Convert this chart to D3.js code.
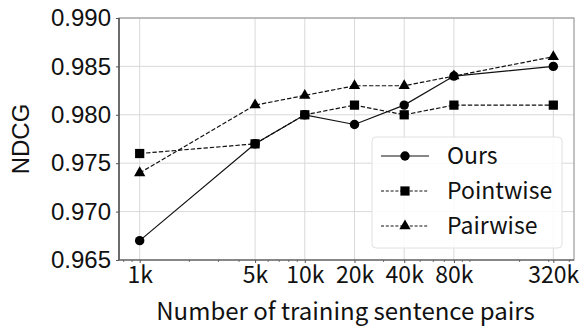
<!DOCTYPE html>
<html>
<head>
<meta charset="utf-8">
<script src="https://cdn.jsdelivr.net/npm/d3@7"></script>
<style>
  body { margin: 0; background: #fff; }
  svg { display: block; }
</style>
</head>
<body>
<div id="chart"></div>
<script>
// data
var sizes = [1000, 5000, 10000, 20000, 40000, 80000, 320000];
var sizeLabels = ["1k", "5k", "10k", "20k", "40k", "80k", "320k"];
var ours = [0.967, 0.977, 0.980, 0.979, 0.981, 0.984, 0.985];
var pointwise = [0.976, 0.977, 0.980, 0.981, 0.980, 0.981, 0.981];
var pairwise = [0.974, 0.981, 0.982, 0.983, 0.983, 0.984, 0.986];
var yTicks = [0.965, 0.970, 0.975, 0.980, 0.985, 0.990];

var w = 584, h = 329;
var pL = 119, pR = 574, pT = 18, pB = 260;
var cjk = "'Noto Sans CJK JP', 'Noto Sans', sans-serif";
var sans = "'Liberation Sans', Arial, sans-serif";

var svg = d3
  .select("#chart")
  .append("svg")
  .attr("width", w)
  .attr("height", h);

// 5% margin in log space like matplotlib
var lo = Math.log10(1000), hi = Math.log10(320000), m = (hi - lo) * 0.05;
var x = d3.scaleLog().domain([Math.pow(10, lo - m), Math.pow(10, hi + m)]).range([pL, pR]);
var y = d3.scaleLinear().domain([0.965, 0.990]).range([pB, pT]);

// grid
svg.append("g")
  .selectAll("line")
  .data(sizes)
  .enter()
  .append("line")
  .attr("x1", d => x(d)).attr("x2", d => x(d))
  .attr("y1", pT).attr("y2", pB)
  .attr("stroke", "#d9d9d9").attr("stroke-width", 1);
svg.append("g")
  .selectAll("line")
  .data(yTicks)
  .enter()
  .append("line")
  .attr("x1", pL).attr("x2", pR)
  .attr("y1", d => y(d)).attr("y2", d => y(d))
  .attr("stroke", "#d9d9d9").attr("stroke-width", 1);

// spines
svg.append("rect")
  .attr("x", pL).attr("y", pT)
  .attr("width", pR - pL).attr("height", pB - pT)
  .attr("fill", "none").attr("stroke", "#9a9a9a").attr("stroke-width", 1.2);
svg.append("line").attr("x1", pL).attr("x2", pL).attr("y1", pT).attr("y2", pB)
  .attr("stroke", "#333").attr("stroke-width", 1.2);
svg.append("line").attr("x1", pL).attr("x2", pR).attr("y1", pB).attr("y2", pB)
  .attr("stroke", "#555").attr("stroke-width", 1.2);

// x axis: major ticks at data sizes, minor log ticks
var xAxis = d3.axisBottom(x)
  .tickValues(sizes)
  .tickFormat((d, i) => sizeLabels[i])
  .tickSize(3)
  .tickPadding(4);
var gx = svg.append("g").attr("transform", "translate(0," + pB + ")").call(xAxis);
gx.select(".domain").remove();
gx.selectAll(".tick line").attr("stroke", "#555");
gx.selectAll(".tick text")
  .style("font-family", cjk).style("font-size", "23px").attr("fill", "#111");

var minor = x.ticks().filter(d => sizes.indexOf(d) < 0);
svg.append("g")
  .selectAll("line")
  .data(minor)
  .enter()
  .append("line")
  .attr("x1", d => x(d)).attr("x2", d => x(d))
  .attr("y1", pB).attr("y2", pB + 2)
  .attr("stroke", "#555").attr("stroke-width", 0.8);

// y axis
var yAxis = d3.axisLeft(y)
  .tickValues(yTicks)
  .tickFormat(d3.format(".3f"))
  .tickSize(3)
  .tickPadding(5);
var gy = svg.append("g").attr("transform", "translate(" + pL + ",0)").call(yAxis);
gy.select(".domain").remove();
gy.selectAll(".tick line").attr("stroke", "#555");
gy.selectAll(".tick text")
  .style("font-family", sans).style("font-size", "24px").attr("fill", "#111");

// axis titles
svg.append("text")
  .attr("x", (pL + pR) / 2 - 1)
  .attr("y", 320)
  .attr("text-anchor", "middle")
  .style("font-family", cjk).style("font-size", "24px").attr("fill", "#111")
  .text("Number of training sentence pairs");
svg.append("text")
  .attr("transform", "translate(29," + (pT + pB) / 2 + ") rotate(-90)")
  .attr("text-anchor", "middle")
  .style("font-family", sans).style("font-size", "24px").attr("fill", "#111")
  .text("NDCG");

// series
var series = [
  { name: "Ours", values: ours, dash: null, marker: d3.symbolCircle, size: 70 },
  { name: "Pointwise", values: pointwise, dash: "4.4,2", marker: d3.symbolSquare, size: 85 },
  { name: "Pairwise", values: pairwise, dash: "4.4,2", marker: d3.symbolTriangle, size: 55 }
];

var line = d3.line()
  .x((d, i) => x(sizes[i]))
  .y(d => y(d));

series.forEach(function (s) {
  svg.append("path")
    .datum(s.values)
    .attr("d", line)
    .attr("fill", "none")
    .attr("stroke", "#111")
    .attr("stroke-width", 1.2)
    .attr("stroke-dasharray", s.dash);
});
series.forEach(function (s) {
  svg.append("g")
    .selectAll("path")
    .data(s.values)
    .enter()
    .append("path")
    .attr("d", d3.symbol().type(s.marker).size(s.size))
    .attr("transform", (d, i) => "translate(" + x(sizes[i]) + "," + y(d) + ")")
    .attr("fill", "#000");
});

// legend
var lg = svg.append("g").attr("transform", "translate(372,137)");
lg.append("rect")
  .attr("width", 190).attr("height", 111)
  .attr("rx", 4)
  .attr("fill", "#fff").attr("fill-opacity", 0.85)
  .attr("stroke", "#e0e0e0").attr("stroke-width", 1);
lg.selectAll("g.item")
  .data(series)
  .enter()
  .append("g")
  .attr("class", "item")
  .attr("transform", (d, i) => "translate(0," + (19 + i * 35) + ")")
  .each(function (d) {
    var g = d3.select(this);
    g.append("line")
      .attr("x1", 9).attr("x2", 57).attr("y1", 0).attr("y2", 0)
      .attr("stroke", "#111").attr("stroke-width", 1.2)
      .attr("stroke-dasharray", d.dash ? "3,1.8" : null);
    g.append("path")
      .attr("d", d3.symbol().type(d.marker).size(d.size))
      .attr("transform", "translate(33,0)")
      .attr("fill", "#000");
    g.append("text")
      .attr("x", 75).attr("y", 8)
      .style("font-family", cjk).style("font-size", "23px").attr("fill", "#111")
      .text(d.name);
  });
</script>
</body>
</html>
